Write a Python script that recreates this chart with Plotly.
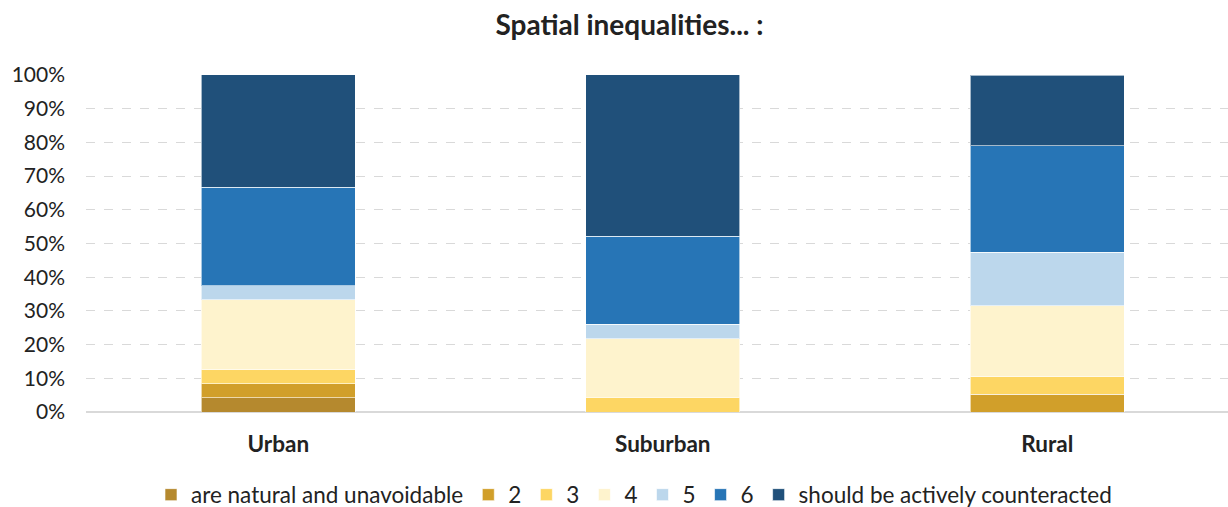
import plotly.graph_objects as go

categories = ["Urban", "Suburban", "Rural"]
series_names = ["are natural and unavoidable", "2", "3", "4", "5", "6", "should be actively counteracted"]
natural = [4.17, 0.0, 0.0]
s2 = [4.17, 0.0, 5.26]
s3 = [4.17, 4.35, 5.26]
s4 = [20.83, 17.39, 21.05]
s5 = [4.17, 4.35, 15.79]
s6 = [29.17, 26.09, 31.58]
counteract = [33.33, 47.83, 21.05]
colors = ["#B5892E", "#D19F2A", "#FDD663", "#FEF3CD", "#BCD7EC", "#2775B6", "#20507A"]

series = [natural, s2, s3, s4, s5, s6, counteract]
FONT = "Lato, Open Sans, sans-serif"

fig = go.Figure()
for name, vals, col in zip(series_names, series, colors):
    fig.add_trace(go.Bar(
        x=categories, y=vals, name=name,
        marker=dict(color=col, line=dict(color="rgba(255,255,255,0.6)", width=1)),
        width=0.4,
    ))

fig.update_layout(
    barmode="stack",
    width=1228, height=507,
    margin=dict(l=86, r=0, t=75, b=95),
    paper_bgcolor="white", plot_bgcolor="white",
    font=dict(family=FONT, size=21, color="#222222"),
    title=dict(text="<b>Spatial inequalities... :</b>", x=629.5 / 1228, xanchor="center",
               xref="container", y=(507 - 25) / 507, yanchor="middle",
               font=dict(size=28, color="#222222")),
    xaxis=dict(range=[-0.5, 2.47], showgrid=False, ticks="", automargin=False,
               tickfont=dict(size=22.5, family=FONT), ticklabelstandoff=16),
    yaxis=dict(range=[0, 100], dtick=10, ticksuffix="%", showgrid=True, automargin=False,
               gridcolor="#D9D9D9", griddash="dash", gridwidth=1,
               zeroline=True, zerolinecolor="#D9D9D9", zerolinewidth=1.5,
               tickfont=dict(size=21), ticklabelstandoff=20),
    legend=dict(orientation="h", x=634 / 1228, xanchor="center", xref="container",
                y=12 / 507, yanchor="middle", yref="container",
                font=dict(size=22.5), traceorder="normal", itemwidth=30),
    showlegend=True,
)
fig.update_xaxes(ticktext=["<b>Urban</b>", "<b>Suburban</b>", "<b>Rural</b>"],
                 tickvals=categories, tickmode="array")

fig.write_html("out.html", config={"displayModeBar": False},
               post_script="document.body.style.margin='0';")
